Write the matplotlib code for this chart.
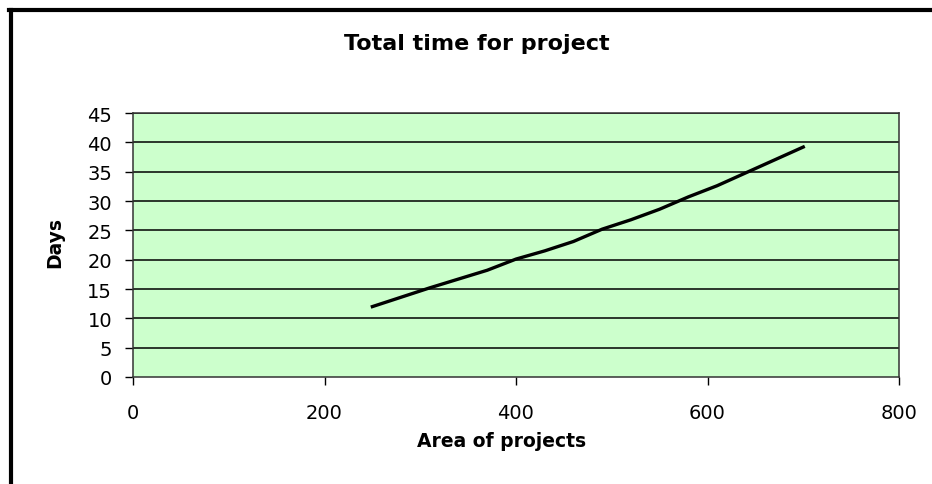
import numpy as np
from matplotlib import pyplot as plt
from matplotlib.lines import Line2D

plt.rcParams['font.family'] = ['DejaVu Sans']

# 面积与天数
area = [250, 280, 310, 340, 370, 400, 430, 460, 490, 520, 550, 580, 610, 640, 670, 700]
days = [12.0, 13.6, 15.2, 16.7, 18.2, 20.1, 21.5, 23.1, 25.2, 26.8, 28.6, 30.7, 32.6, 34.8, 37.0, 39.2]
x_ticks = [0, 200, 400, 600, 800]
y_ticks = [0, 5, 10, 15, 20, 25, 30, 35, 40, 45]

fig = plt.figure(figsize=(9.32, 4.85), dpi=100)
ax = fig.add_axes([133 / 932, 1 - 378 / 485, (899 - 133) / 932, (378 - 114) / 485])
ax.set_facecolor('#CCFFCC')

# 水平网格线
for yv in y_ticks[1:]:
    ax.axhline(yv, color='black', linewidth=1.1, zorder=1)

ax.plot(area, days, color='black', linewidth=2.4, zorder=3)

ax.set_xlim(0, 800)
ax.set_ylim(0, 45)
ax.set_xticks(x_ticks)
ax.set_yticks(y_ticks)
ax.tick_params(direction='out', length=6, width=1.0, labelsize=14)
ax.tick_params(axis='x', pad=12.5)
ax.tick_params(axis='y', pad=9)
for s in ax.spines.values():
    s.set_color('#333333')
    s.set_linewidth(1.1)

fig.text(477 / 932, 1 - 44.5 / 485, 'Total time for project',
         ha='center', va='center', fontsize=16, fontweight='bold')
fig.text(502 / 932, 1 - 442 / 485, 'Area of projects',
         ha='center', va='center', fontsize=13.5, fontweight='bold')
fig.text(55 / 932, 1 - 243 / 485, 'Days', rotation=90,
         ha='center', va='center', fontsize=13.5, fontweight='bold')

# 外框（只看到左边和上边）
fig.add_artist(Line2D([11 / 932, 11 / 932], [0, 1 - 11.3 / 485],
                      transform=fig.transFigure, color='black', linewidth=3.0))
fig.add_artist(Line2D([9.4 / 932, 1], [1 - 11.3 / 485, 1 - 11.3 / 485],
                      transform=fig.transFigure, color='black', linewidth=3.0))

fig.savefig('out.png', dpi=100)
